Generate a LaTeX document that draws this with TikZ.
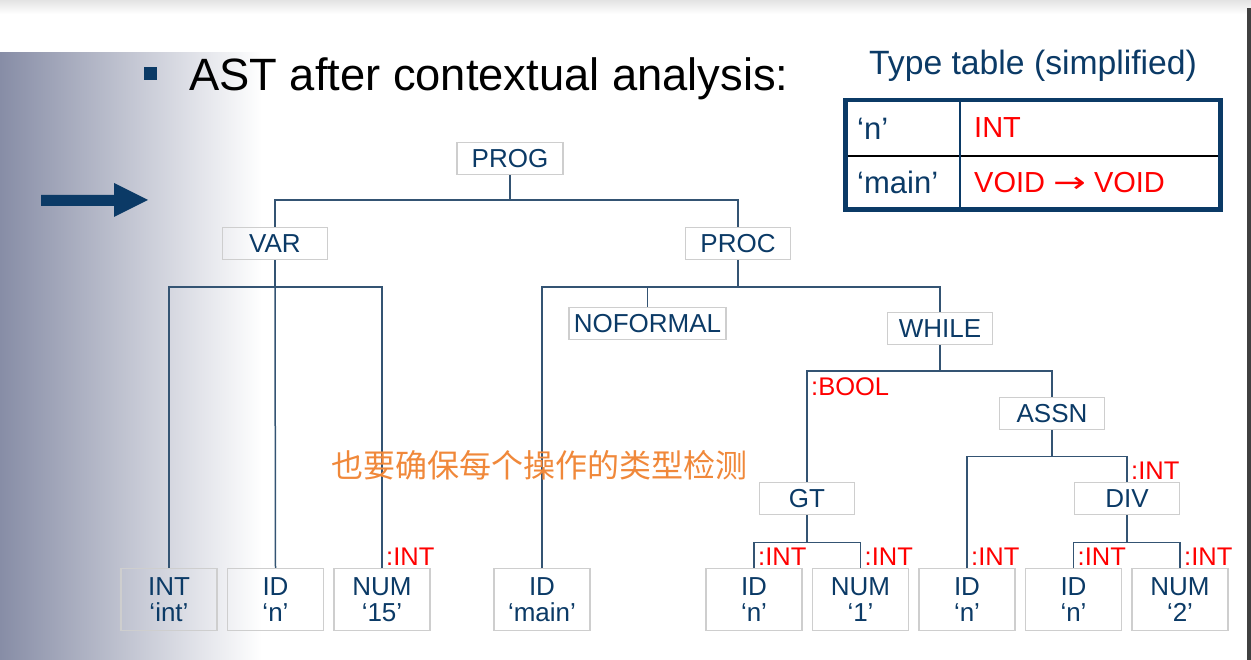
\documentclass[tikz,border=0pt]{standalone}
\usepackage{fontspec}
\setmainfont{Liberation Sans}
\newfontfamily\cjk{Noto Sans CJK SC}
\newfontfamily\arrowfont{DejaVu Sans}
\usepackage{tikz}
\usetikzlibrary{positioning}
\definecolor{navy}{RGB}{11,58,102}
\definecolor{edgeblue}{RGB}{52,84,115}
\definecolor{boxgray}{RGB}{206,206,206}
\definecolor{shadegray}{RGB}{135,141,166}
\definecolor{noteorange}{RGB}{240,136,58}
\pgfmathsetmacro{\leafsep}{9}
\tikzset{
  astnode/.style={draw=boxgray, line width=1.5pt, text=navy, inner sep=0pt,
    minimum width=105pt, minimum height=32pt, font=\fontsize{26}{26}\selectfont},
  leaf/.style={astnode, minimum width=96pt, minimum height=62pt, align=center},
  edge/.style={draw=edgeblue, line width=1.5pt},
  typelabel/.style={text=red, inner sep=1pt, font=\fontsize{25.5}{25.5}\selectfont},
}

\begin{document}
\begin{tikzpicture}[x=1pt, y=-1pt]
    \useasboundingbox (0,0) rectangle (1251,660);
    % background
    \shade[top color=gray!22, bottom color=white] (0,0) rectangle (1251,14);
    \shade[left color=shadegray, right color=white] (0,53) rectangle (262,660);
    \fill[black!75] (1247,8) rectangle (1251,660);
    % title and arrow
    \fill[navy] (144,67) rectangle (157,80);
    \node[anchor=base west, inner sep=0pt, font=\fontsize{45.3}{45.3}\selectfont] (title) at (189,91) {AST after contextual analysis:};
    \fill[navy] (41,195) -- (114,195) -- (114,183) -- (148,200) -- (114,217) -- (114,206) -- (41,206) -- cycle;
    % type table
    \node[anchor=base west, inner sep=0pt, text=navy, font=\fontsize{33.7}{33.7}\selectfont] (table_title) at (869,75) {Type table (simplified)};
    \draw[black, line width=1.5pt] (845,156) -- (1221,156);
    \draw[navy, line width=1.5pt] (960,100) -- (960,209.5);
    \draw[navy, line width=4.5pt] (845.5,100) rectangle (1220.5,209.5);
    \node[anchor=base west, inner sep=0pt, text=navy, font=\fontsize{31}{31}\selectfont] (name_n) at (857,140) {‘n’};
    \node[anchor=base west, inner sep=0pt, text=navy, font=\fontsize{31}{31}\selectfont] (name_main) at (857,194) {‘main’};
    \node[anchor=base west, inner sep=0pt, text=red, font=\fontsize{29}{29}\selectfont] (type_n) at (974,138) {INT};
    \node[anchor=base west, inner sep=0pt, text=red, font=\fontsize{29}{29}\selectfont] (type_main) at (974,193) {VOID \scalebox{1.35}[1]{\arrowfont →} VOID};
    % define nodes
    \node[astnode, minimum width=106pt] (prog) at (510,158.5) {PROG};
    \node[astnode] (var) at (275,243.5) {VAR};
    \node[astnode] (proc) at (738,243.5) {PROC};
    \node[astnode, inner xsep=5pt] (no_formal) at (647.5,323.5) {NOFORMAL};
    \node[astnode] (while) at (940,328.5) {WHILE};
    \node[astnode] (assn) at (1052,413.5) {ASSN};
    \node[astnode, minimum width=95pt] (gt) at (807,498.5) {GT};
    \node[astnode] (div) at (1127,498.5) {DIV};
    % leaves
    \node[leaf] (int_int) at (169,599.5) {INT\\‘int’};
    \node[leaf, right=\leafsep pt of int_int] (id_n_var) {ID\\‘n’};
    \node[leaf, right=\leafsep pt of id_n_var] (num_15) {NUM\\‘15’};
    \node[leaf] (id_main) at (542,599.5) {ID\\‘main’};
    \node[leaf] (id_n_gt) at (754,599.5) {ID\\‘n’};
    \node[leaf, right=\leafsep pt of id_n_gt] (num_1) {NUM\\‘1’};
    \node[leaf, right=\leafsep pt of num_1] (id_n_assn) {ID\\‘n’};
    \node[leaf, right=\leafsep pt of id_n_assn] (id_n_div) {ID\\‘n’};
    \node[leaf, right=\leafsep pt of id_n_div] (num_2) {NUM\\‘2’};
    % draw tree
    \draw[edge] (prog.south) -- ++(0,25) coordinate (bus_prog);
    \draw[edge] (var.north) |- (bus_prog) -| (proc.north);
    \draw[edge] (var.south) -- ++(0,27) coordinate (bus_var);
    \draw[edge] (int_int.north) |- (bus_var) -| (num_15.north);
    \draw[edge] (bus_var) -- (id_n_var.north);
    \draw[edge] (proc.south) -- ++(0,27) coordinate (bus_proc);
    \draw[edge] (id_main.north) |- (bus_proc) -| (while.north);
    \draw[edge] (no_formal.north) -- (no_formal.north |- bus_proc);
    \draw[edge] (while.south) -- ++(0,26) coordinate (bus_while);
    \draw[edge] (gt.north) |- (bus_while) -| (assn.north);
    \draw[edge] (assn.south) -- ++(0,26) coordinate (bus_assn);
    \draw[edge] (id_n_assn.north) |- (bus_assn) -| (div.north);
    \draw[edge] (gt.south) -- ++(0,27) coordinate (bus_gt);
    \draw[edge] (id_n_gt.north) |- (bus_gt) -| (num_1.north);
    \draw[edge] (div.south) -- ++(0,27) coordinate (bus_div);
    \draw[edge] (id_n_div.north) |- (bus_div) -| (num_2.north);
    % add type labels
    \node[typelabel, anchor=north west] (bool_gt) at ([shift={(3,5)}]gt.north |- bus_while) {:BOOL};
    \node[typelabel, anchor=south west] (int_div) at ([shift={(3,-1)}]div.north) {:INT};
    \node[typelabel, anchor=south west] (int_15) at ([shift={(3,-1)}]num_15.north) {:INT};
    \node[typelabel, anchor=south west] (int_n_gt) at ([shift={(3,-1)}]id_n_gt.north) {:INT};
    \node[typelabel, anchor=south west] (int_1) at ([shift={(3,-1)}]num_1.north) {:INT};
    \node[typelabel, anchor=south west] (int_n_assn) at ([shift={(3,-1)}]id_n_assn.north) {:INT};
    \node[typelabel, anchor=south west] (int_n_div) at ([shift={(3,-1)}]id_n_div.north) {:INT};
    \node[typelabel, anchor=south west] (int_2) at ([shift={(3,-1)}]num_2.north) {:INT};
    % note
    \node[text=noteorange, inner sep=0pt, font=\cjk\fontsize{32}{32}\selectfont] (note) at (539.5,465) {也要确保每个操作的类型检测};
\end{tikzpicture}
\end{document}
